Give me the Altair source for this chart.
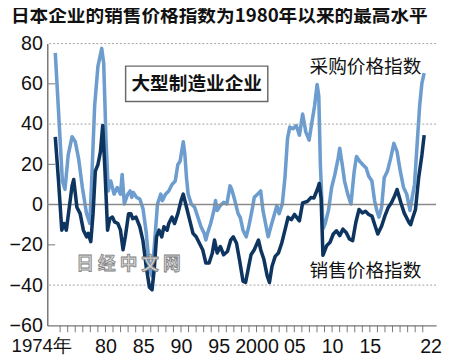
import altair as alt
import pandas as pd

TITLE = "日本企业的销售价格指数为1980年以来的最高水平"

BUY_YEARS = [1973.36, 1974.30, 1974.64, 1975.07, 1975.58, 1976.01, 1976.44, 1976.95, 1977.50, 1977.93,
             1978.14, 1978.57, 1979.00, 1979.51, 1979.77, 1980.07, 1980.37, 1980.71, 1981.14, 1981.56,
             1981.99, 1982.21, 1982.50, 1982.93, 1983.27, 1983.48, 1983.69, 1984.12, 1984.55, 1984.97,
             1985.40, 1985.82, 1986.17, 1986.89, 1987.32, 1987.53, 1987.96, 1988.38, 1988.81, 1989.24,
             1989.58, 1989.88, 1990.30, 1990.52, 1990.73, 1990.95, 1991.37, 1991.80, 1992.23, 1992.65,
             1993.08, 1993.29, 1993.51, 1993.93, 1994.36, 1994.57, 1994.79, 1995.21, 1995.64, 1996.07,
             1996.49, 1996.71, 1997.13, 1997.56, 1997.85, 1998.21, 1998.63, 1998.97, 1999.40, 1999.70,
             2000.13, 2000.55, 2000.85, 2001.19, 2001.54, 2001.83, 2002.26, 2002.69, 2002.99, 2003.41,
             2003.76, 2004.10, 2004.40, 2004.82, 2005.25, 2005.68, 2006.10, 2006.53, 2006.96, 2007.26,
             2007.68, 2008.02, 2008.24, 2008.45, 2008.80, 2009.09, 2009.52, 2009.94, 2010.37, 2010.80,
             2011.01, 2011.35, 2011.65, 2012.07, 2012.50, 2012.93, 2013.23, 2013.65, 2014.08, 2014.51,
             2014.85, 2015.27, 2015.62, 2015.92, 2016.21, 2016.56, 2016.90, 2017.32, 2017.75, 2018.18,
             2018.60, 2019.03, 2019.46, 2019.88, 2020.31, 2020.61, 2020.91, 2021.25, 2021.59, 2021.89,
             2022.19]
BUY_VALUES = [75.4, 11.7, 7.6, 24.7, 33.7, 31.2, 23.0, 8.5, -4.5, -9.4,
              8.5, 49.0, 68.6, 77.6, 70.2, 32.8, 6.8, 11.7, 5.2, 8.5,
              5.2, 15.0, 0.3, 5.0, 6.8, 3.6, 6.0, 3.6, 2.8, -2.0,
              -14.0, -32.0, -35.4, 0.3, 5.2, 2.0, 5.2, 6.8, 10.0, 11.7,
              19.8, 21.5, 31.2, 24.7, 13.3, 5.2, 0.3, -1.3, -6.2, -11.0,
              -14.3, -17.6, -14.3, -9.4, -2.9, 2.0, -2.9, -0.5, 1.1, 0.3,
              9.3, 7.6, 2.0, -4.5, -6.5, -12.7, -16.0, -11.0, -2.9, 3.6,
              5.2, 6.8, -2.9, -9.4, -16.0, -11.9, -6.2, -0.5, -4.5, 0.3,
              13.3, 32.8, 38.5, 37.7, 39.3, 34.5, 45.0, 36.0, 32.0, 39.3,
              49.0, 59.7, 54.0, 19.8, -12.0, -9.4, -2.9, 8.5, 15.0, 23.0,
              28.0, 19.8, 11.7, 5.2, 0.3, 16.6, 23.9, 21.5, 19.8, 18.2,
              14.1, 11.7, 2.0, -2.9, -6.2, -1.3, 13.3, 16.6, 23.0, 30.4,
              26.3, 16.6, 8.5, 5.2, -2.9, 3.6, 10.0, 29.6, 49.0, 60.4,
              65.3]

SELL_YEARS = [1973.36, 1973.79, 1974.22, 1974.52, 1974.82, 1975.16, 1975.58, 1975.80, 1976.22, 1976.65,
              1977.08, 1977.50, 1977.72, 1978.06, 1978.36, 1978.66, 1979.00, 1979.34, 1979.64, 1979.94,
              1980.28, 1980.58, 1980.92, 1981.22, 1981.65, 1981.99, 1982.33, 1982.63, 1983.06, 1983.36,
              1983.61, 1984.04, 1984.55, 1984.97, 1985.40, 1985.82, 1986.17, 1986.46, 1986.76, 1987.10,
              1987.45, 1987.74, 1988.17, 1988.38, 1988.81, 1989.15, 1989.58, 1990.01, 1990.30, 1990.73,
              1991.16, 1991.59, 1992.01, 1992.44, 1992.87, 1993.29, 1993.72, 1994.15, 1994.44, 1994.79,
              1995.21, 1995.64, 1996.15, 1996.58, 1996.92, 1997.35, 1997.77, 1998.21, 1998.55, 1998.97,
              1999.27, 1999.70, 2000.26, 2000.55, 2000.98, 2001.41, 2001.71, 2002.05, 2002.47, 2002.90,
              2003.33, 2003.76, 2004.18, 2004.60, 2005.03, 2005.67, 2006.10, 2006.74, 2007.20, 2007.59,
              2008.10, 2008.30, 2008.55, 2008.79, 2009.30, 2009.73, 2010.16, 2010.58, 2011.01, 2011.44,
              2011.86, 2012.29, 2012.72, 2013.14, 2013.57, 2014.00, 2014.42, 2014.85, 2015.28, 2015.70,
              2016.05, 2016.56, 2016.98, 2017.41, 2017.84, 2018.26, 2018.60, 2019.12, 2019.54, 2020.18,
              2020.40, 2020.61, 2021.04, 2021.46, 2021.89, 2022.19]
SELL_VALUES = [33.7, 11.7, -12.7, -9.4, -12.7, -2.9, 9.3, 12.5, -1.3, -4.5,
               -12.7, -16.0, -14.3, -18.4, -4.5, 16.6, 19.8, 26.3, 39.3, 16.6,
               -12.7, -7.0, -6.2, -8.6, -9.4, -12.7, -22.4, -16.0, -4.5, -4.5,
               -7.0, -6.2, -11.0, -18.0, -31.0, -41.0, -42.3, -32.0, -16.0, -12.7,
               -16.0, -11.0, -12.7, -9.4, -6.2, -9.4, -4.5, 2.0, 5.2, -1.3,
               -7.8, -14.3, -16.0, -19.2, -22.4, -29.0, -29.0, -24.0, -17.6, -24.0,
               -20.8, -24.9, -23.3, -17.6, -16.0, -19.2, -28.0, -38.0, -38.7, -30.6,
               -24.9, -22.4, -17.6, -22.4, -27.3, -35.4, -38.7, -30.6, -25.7, -24.0,
               -19.2, -12.7, -6.3, -7.5, -4.9, -8.1, 0.8, 1.6, 3.5, 3.3,
               8.0, 10.5, 3.0, -25.2, -20.3, -18.7, -14.6, -13.0, -15.4, -12.2,
               -13.8, -17.1, -17.9, -8.9, -2.4, -4.1, -3.3, -4.9, -5.7, -10.6,
               -14.6, -10.6, -5.7, -1.6, 0.8, 4.1, 7.5, 0.8, -4.1, -8.9,
               -10.0, -7.3, -2.4, 13.3, 24.7, 34.5]

Y_TICKS = [-60, -40, -20, 0, 20, 40, 60, 80]
GRID_DASHED = [80, 40, -40]
INNER_TICKS = [60, 20, -20]
X_TICK_YEARS = list(range(1974, 2023))
X_LABEL_YEARS = [1974, 1980, 1985, 1990, 1995, 2000, 2005, 2010, 2015, 2022]
X_LABEL_TEXT = ["1974年", "80", "85", "90", "95", "2000", "05", "10", "15", "22"]

BOX_TEXT = "大型制造业企业"
BUY_LABEL = "采购价格指数"
SELL_LABEL = "销售价格指数"
WATERMARK = "日 经 中 文 网"

CJK = "Noto Sans CJK SC"
NUM = "Liberation Sans, Arial, sans-serif"
LIGHT = "#6c9dce"
DARK = "#0e3560"
GRAY = "#777777"
PLOT_W, PLOT_H = 396, 287

buy = pd.DataFrame({"year": BUY_YEARS, "value": BUY_VALUES})
sell = pd.DataFrame({"year": SELL_YEARS, "value": SELL_VALUES})
ticks = pd.DataFrame({"year": X_TICK_YEARS})
one = pd.DataFrame({"a": [0]})

xs = alt.Scale(domain=[1972.3, 2023.77], nice=False, zero=False)
ys = alt.Scale(domain=[-60, 80], nice=False, zero=False)

label_expr = " : ".join(
    f"datum.value == {y} ? '{t}'" for y, t in zip(X_LABEL_YEARS, X_LABEL_TEXT)
) + " : ''"

x_axis = alt.Axis(
    values=X_LABEL_YEARS, labelExpr=label_expr, grid=False, title=None, orient="bottom",
    ticks=False, domain=True, domainColor=GRAY, domainWidth=1.5, labelPadding=12,
    labelFont=NUM,
    labelFontSize={"condition": {"test": "datum.value == 1974", "value": 19}, "value": 20},
    labelColor="#111", labelOverlap=False, labelFlush=False,
    labelAlign={"condition": {"test": "datum.value == 1974", "value": "left"}, "value": "center"},
    labelOffset={"condition": [{"test": "datum.value == 1974", "value": -50},
                               {"test": "datum.value == 2022", "value": 8}],
                 "value": 0},
)
y_axis = alt.Axis(
    values=Y_TICKS, grid=False, ticks=False, tickSize=0, title=None,
    domainColor=GRAY, domainWidth=1.5, labelFont=NUM, labelFontSize=20,
    labelColor="#111", labelPadding=5, labelOverlap=False,
)

lines_buy = alt.Chart(buy).mark_line(color=LIGHT, strokeWidth=3.6, strokeJoin="round").encode(
    x=alt.X("year:Q", scale=xs, axis=x_axis),
    y=alt.Y("value:Q", scale=ys, axis=y_axis),
)
lines_sell = alt.Chart(sell).mark_line(color=DARK, strokeWidth=3.6, strokeJoin="round").encode(
    x=alt.X("year:Q", scale=xs),
    y=alt.Y("value:Q", scale=ys),
)

year_ticks = alt.Chart(ticks).mark_rule(color=GRAY, strokeWidth=1).encode(
    x=alt.X("year:Q", scale=xs), y=alt.value(PLOT_H), y2=alt.value(PLOT_H + 7))
grid = alt.Chart(pd.DataFrame({"v": GRID_DASHED})).mark_rule(
    color="#a0a0a0", strokeDash=[2, 2], strokeWidth=1
).encode(y=alt.Y("v:Q", scale=ys))
zero = alt.Chart(pd.DataFrame({"v": [0]})).mark_rule(color="#8a8a8a", strokeWidth=1.5).encode(
    y=alt.Y("v:Q", scale=ys))
inner = alt.Chart(pd.DataFrame({"v": INNER_TICKS})).mark_rule(color=GRAY, strokeWidth=1).encode(
    y=alt.Y("v:Q", scale=ys), x=alt.value(0), x2=alt.value(8))

box = alt.Chart(one).mark_rect(fill="white", stroke="#6a6a6a", strokeWidth=1.5).encode(
    x=alt.X(datum=1982.67, scale=xs), x2=alt.X2(datum=2001.49),
    y=alt.Y(datum=68.8, scale=ys), y2=alt.Y2(datum=51.2),
)
box_text = alt.Chart(one).mark_text(
    text=BOX_TEXT, font=CJK, fontSize=19, fontWeight="bold", color="#111", baseline="middle"
).encode(x=alt.X(datum=1992.08, scale=xs), y=alt.Y(datum=60, scale=ys))
buy_text = alt.Chart(one).mark_text(
    text=BUY_LABEL, font=CJK, fontSize=19, color="#111", baseline="middle"
).encode(x=alt.X(datum=2014.42, scale=xs), y=alt.Y(datum=68.3, scale=ys))
sell_text = alt.Chart(one).mark_text(
    text=SELL_LABEL, font=CJK, fontSize=19, color="#111", baseline="middle"
).encode(x=alt.X(datum=2014.42, scale=xs), y=alt.Y(datum=-33.2, scale=ys))
wm = alt.Chart(one).mark_text(
    text=WATERMARK, font=CJK, fontSize=18, fontWeight="bold", fill="#d4d4d4",
    stroke="#808080", strokeWidth=0.8, baseline="middle"
).encode(x=alt.X(datum=1983.05, scale=xs), y=alt.Y(datum=-29.8, scale=ys))

chart = alt.layer(
    lines_buy, grid, zero, inner, year_ticks, lines_sell, wm, box, box_text, buy_text, sell_text
).properties(
    width=PLOT_W, height=PLOT_H,
    title=alt.TitleParams(TITLE, anchor="start", frame="group", dx=-37, offset=8,
                          font=CJK, fontSize=19, fontWeight="bold", color="#111"),
    autosize=alt.AutoSizeParams(type="none"),
    padding={"left": 40, "top": 33, "right": 6, "bottom": 31},
    background="white",
).configure_view(stroke=None)

chart.save("out.html", embed_options={"renderer": "svg", "actions": False})
